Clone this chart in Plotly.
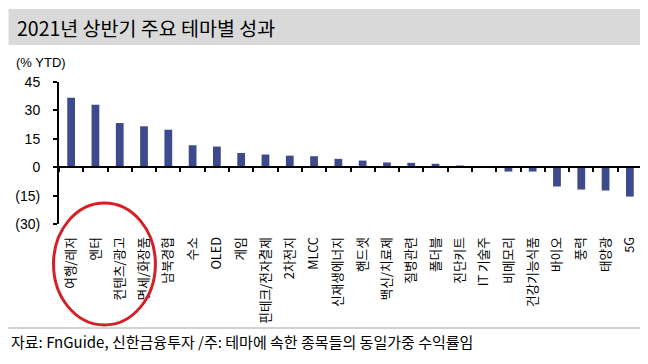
import plotly.graph_objects as go

categories = ["여행/레저", "엔터", "컨텐츠/광고", "면세/화장품", "남북경협", "수소", "OLED", "게임",
              "핀테크/전자결제", "2차전지", "MLCC", "신재생에너지", "핸드셋", "백신/치료제", "질병관련",
              "폴더블", "진단키트", "IT 기술주", "비메모리", "건강기능식품", "바이오", "풍력", "태양광", "5G"]
values = [36.7, 33.0, 23.3, 21.6, 19.8, 11.6, 10.9, 7.5, 6.7, 6.1, 5.8, 4.4, 3.5, 2.5, 2.3,
          1.8, 0.9, 0.5, -2.3, -2.3, -10.2, -11.8, -12.3, -15.5]
ytick_vals = [45, 30, 15, 0, -15, -30]
ytick_text = ["45", "30", "15", "0", "(15)", "(30)"]

# page has an 8px default body margin; work in page pixels and subtract it
OFF = 8
W, H = 648 - OFF, 364 - OFF
L, R, T, B = 58.5 - OFF, 642 - OFF, 82 - OFF, 224 - OFF
YMIN, YMAX = -30, 45

def px(X):
    return (X - OFF - L) / (R - L)

def py(Y):
    return (B - (Y - OFF)) / (B - T)

KFONT = "Noto Sans CJK KR"
NFONT = "Liberation Sans, Arial"
BAR = "#3d4a8c"

fig = go.Figure()
fig.add_trace(go.Bar(x=categories, y=values, marker=dict(color=BAR, line=dict(width=0)),
                     xaxis="x", yaxis="y", showlegend=False))
# invisible trace for the zero-line axis
fig.add_trace(go.Scatter(x=categories, y=[0] * len(categories), xaxis="x2", yaxis="y",
                         mode="none", showlegend=False, hoverinfo="skip"))

zero_pos = (0 - YMIN) / (YMAX - YMIN)

fig.update_layout(
    width=W, height=H,
    margin=dict(l=L, r=W - R, t=T, b=H - B, pad=0, autoexpand=False),
    paper_bgcolor="white", plot_bgcolor="white",
    bargap=0.68,
    xaxis=dict(type="category", range=[-0.5, len(categories) - 0.5], showline=False,
               showgrid=False, zeroline=False, tickangle=-90, automargin=False,
               ticks="outside", ticklen=7, tickcolor="rgba(0,0,0,0)",
               tickfont=dict(family=KFONT, size=12.7, color="#000")),
    xaxis2=dict(type="category", overlaying="x", anchor="free", position=zero_pos,
                matches="x", side="bottom",
                showline=True, linecolor="#000", linewidth=2,
                ticks="outside", ticklen=4, tickwidth=2, tickcolor="#000",
                tickson="boundaries", showticklabels=False, showgrid=False, zeroline=False),
    yaxis=dict(range=[YMIN, YMAX], showline=True, linecolor="#000", linewidth=2,
               ticks="outside", ticklen=4, tickwidth=2, tickcolor="#000",
               tickvals=ytick_vals, ticktext=ytick_text, showgrid=False, zeroline=False,
               ticklabelstandoff=10, automargin=False,
               tickfont=dict(family=NFONT, size=14, color="#000")),
)

shapes = [
    dict(type="rect", xref="paper", yref="paper", x0=px(8), x1=px(643), y0=py(45), y1=py(9),
         fillcolor="#d9d9d9", line=dict(width=0), layer="below"),
    dict(type="line", xref="paper", yref="paper", x0=px(8), x1=px(648), y0=py(328), y1=py(328),
         line=dict(color="#a6a6a6", width=1)),
    dict(type="circle", xref="paper", yref="paper", x0=px(53), x1=px(155), y0=py(325), y1=py(203),
         line=dict(color="#d42027", width=3)),
]
fig.update_layout(shapes=shapes)

annotations = [
    dict(text="2021년 상반기 주요 테마별 성과", xref="paper", yref="paper", x=px(14), y=py(27),
         xanchor="left", yanchor="middle", showarrow=False,
         font=dict(family=KFONT, size=19.5, color="#000")),
    dict(text="(% YTD)", xref="paper", yref="paper", x=px(13), y=py(62),
         xanchor="left", yanchor="middle", showarrow=False,
         font=dict(family=NFONT, size=13, color="#000")),
    dict(text="자료: FnGuide, 신한금융투자 /주: 테마에 속한 종목들의 동일가중 수익률임", xref="paper", yref="paper",
         x=px(8), y=py(341), xanchor="left", yanchor="middle", showarrow=False,
         font=dict(family=KFONT, size=15, color="#000")),
]
fig.update_layout(annotations=annotations)

fig.write_html("out.html")
